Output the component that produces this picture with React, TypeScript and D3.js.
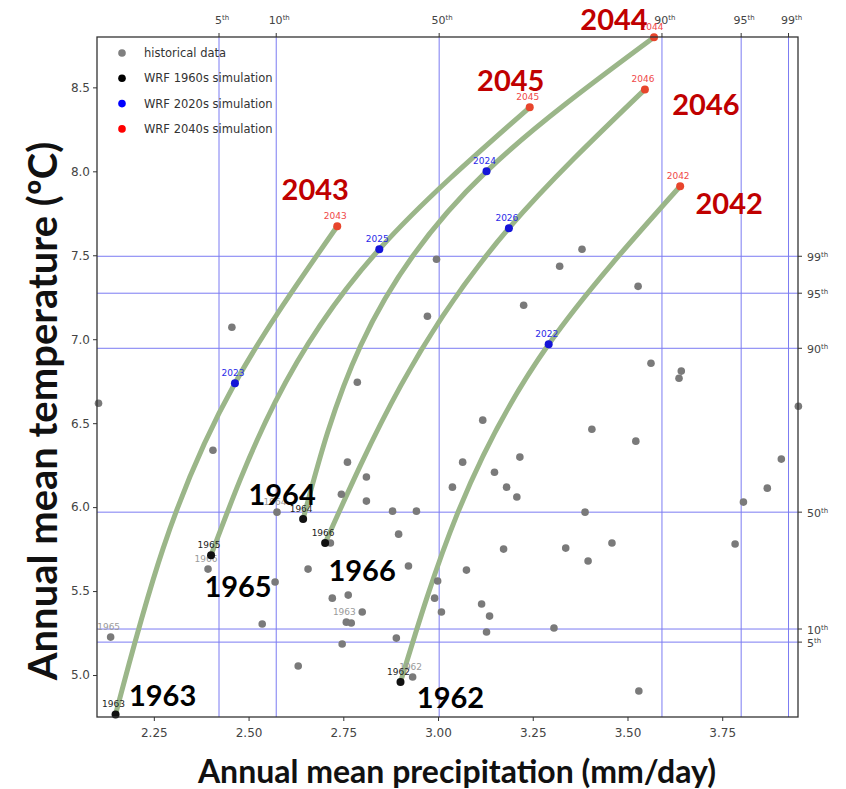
import React, { useEffect, useRef } from 'react';
import * as d3 from 'd3';

// historical annual means (precip mm/day, temp C)
const histPrecip = [
  2.104, 2.456, 2.406, 2.787, 2.972, 2.996, 3.380, 3.321, 3.226, 3.528,
  3.562, 3.642, 3.636, 3.951, 3.118, 3.406, 3.522, 3.216, 3.149, 3.181,
  3.208, 3.388, 3.906, 3.869, 3.806, 3.784, 3.173, 3.337, 3.396, 3.459,
  3.115, 3.136, 3.128, 3.306, 3.530, 3.065, 3.038, 2.761, 2.811, 2.745,
  2.811, 2.575, 2.880, 2.943, 2.896, 2.716, 2.393, 2.657, 2.922, 2.570,
  2.999, 3.075, 2.721, 2.763, 2.991, 2.800, 3.009, 2.758, 2.771, 2.536,
  2.890, 2.747, 2.631, 2.933, 2.136
];
const histTemp = [
  6.619, 7.071, 6.339, 6.744, 7.137, 7.476, 7.536, 7.435, 7.202, 7.315,
  6.857, 6.810, 6.768, 6.601, 6.518, 6.464, 6.393, 6.298, 6.208, 6.119,
  6.060, 5.970, 6.286, 6.113, 6.030, 5.780, 5.750, 5.756, 5.679, 5.786,
  5.423, 5.351, 5.256, 5.280, 4.905, 6.268, 6.119, 6.268, 6.179, 6.077,
  6.036, 5.970, 5.976, 5.976, 5.839, 5.786, 5.631, 5.631, 5.649, 5.554,
  5.560, 5.625, 5.458, 5.476, 5.458, 5.375, 5.375, 5.315, 5.310, 5.304,
  5.220, 5.185, 5.054, 4.988, 5.226
];
// a few historical points carry a faint year label
const histLabelIndex = [64, 57, 63, 41, 46];
const histLabelYear = ['1965', '1963', '1962', '1964', '1966'];

const years1960s = ['1963', '1965', '1964', '1966', '1962'];
const precip1960s = [2.149, 2.401, 2.644, 2.702, 2.901];
const temp1960s = [4.765, 5.714, 5.929, 5.786, 4.958];

const years2020s = ['2023', '2025', '2024', '2026', '2022'];
const precip2020s = [2.464, 2.845, 3.128, 3.187, 3.292];
const temp2020s = [6.738, 7.536, 8.000, 7.661, 6.970];

const years2040s = ['2043', '2045', '2044', '2046', '2042'];
const precip2040s = [2.734, 3.242, 3.570, 3.546, 3.639];
const temp2040s = [7.673, 8.381, 8.798, 8.488, 7.911];

const pctNames = ['5', '10', '50', '90', '95', '99'];
const precipPct = [2.422, 2.573, 3.003, 3.591, 3.800, 3.925];
const tempPct = [5.196, 5.274, 5.970, 6.946, 7.274, 7.494];

const xTicks = [2.25, 2.5, 2.75, 3.0, 3.25, 3.5, 3.75];
const yTicks = [5.0, 5.5, 6.0, 6.5, 7.0, 7.5, 8.0, 8.5];

const legendLabels = ['historical data', 'WRF 1960s simulation', 'WRF 2020s simulation', 'WRF 2040s simulation'];
const legendColors = ['#7f7f7f', '#000000', '#0000ff', '#ff0000'];

// big annotation offsets (px) from the start / end point of each track
const bigOffset1960s = [[47, -8], [27, 42], [-21, -14], [37, 38], [50, 26]];
const bigOffset2040s = [[-22, -26], [-19, -16], [-40, -7], [61, 26], [49, 28]];

const App = () => {
  const ref = useRef(null);

  useEffect(() => {
    const width = 846;
    const height = 789;
    const left = 97, right = 798, top = 37, bottom = 717;
    const x = d3.scaleLinear().domain([2.10, 3.95]).range([left, right]);
    const y = d3.scaleLinear().domain([4.75, 8.80]).range([bottom, top]);

    const svg = d3.select(ref.current);
    svg.selectAll('*').remove();
    svg.attr('width', width).attr('height', height).attr('viewBox', [0, 0, width, height]);

    const tickFont = 'DejaVu Sans, sans-serif';
    const bigFont = 'Lato, Open Sans, sans-serif';

    // percentile grid
    const grid = svg.append('g').attr('stroke', '#7b7bf2').attr('stroke-width', 1);
    precipPct.forEach(v => {
      grid.append('line').attr('x1', x(v)).attr('x2', x(v)).attr('y1', top).attr('y2', bottom);
      grid.append('line').attr('x1', x(v)).attr('x2', x(v)).attr('y1', top - 4).attr('y2', top).attr('stroke', '#333');
    });
    tempPct.forEach(v => {
      grid.append('line').attr('x1', left).attr('x2', right).attr('y1', y(v)).attr('y2', y(v));
      grid.append('line').attr('x1', right).attr('x2', right + 4).attr('y1', y(v)).attr('y2', y(v)).attr('stroke', '#333');
    });

    const pctLabel = (g, name) => {
      g.append('tspan').text(name);
      g.append('tspan').attr('font-size', 7).attr('dy', -4).text('th');
    };
    precipPct.forEach((v, i) => {
      const t = svg.append('text').attr('x', x(v) + 3).attr('y', 24).attr('text-anchor', 'middle')
        .attr('font-family', tickFont).attr('font-size', 11).attr('fill', '#444');
      pctLabel(t, pctNames[i]);
    });
    tempPct.forEach((v, i) => {
      const t = svg.append('text').attr('x', right + 9).attr('y', y(v) + 5)
        .attr('font-family', tickFont).attr('font-size', 11).attr('fill', '#444');
      pctLabel(t, pctNames[i]);
    });

    // axes
    svg.append('g')
      .attr('transform', `translate(0,${bottom})`)
      .call(d3.axisBottom(x).tickValues(xTicks).tickFormat(d3.format('.2f')).tickSize(4).tickSizeOuter(0))
      .call(g => g.select('.domain').remove())
      .call(g => g.selectAll('text').attr('font-family', tickFont).attr('font-size', 12).attr('fill', '#444').attr('dy', '1.1em'))
      .call(g => g.selectAll('line').attr('stroke', '#333'));
    svg.append('g')
      .attr('transform', `translate(${left},0)`)
      .call(d3.axisLeft(y).tickValues(yTicks).tickFormat(d3.format('.1f')).tickSize(4).tickSizeOuter(0))
      .call(g => g.select('.domain').remove())
      .call(g => g.selectAll('text').attr('font-family', tickFont).attr('font-size', 12).attr('fill', '#444'))
      .call(g => g.selectAll('line').attr('stroke', '#333'));

    // tracks 1960s -> 2020s -> 2040s (smooth in temperature)
    const line = d3.line().x(d => x(d[0])).y(d => y(d[1])).curve(d3.curveMonotoneY);
    const tracks = svg.append('g').attr('fill', 'none').attr('stroke', '#9bb689')
      .attr('stroke-width', 5).attr('stroke-linecap', 'round');
    years1960s.forEach((_, i) => {
      tracks.append('path').attr('d', line([
        [precip1960s[i], temp1960s[i]],
        [precip2020s[i], temp2020s[i]],
        [precip2040s[i], temp2040s[i]]
      ]));
    });

    // historical points
    const hist = svg.append('g');
    histPrecip.forEach((p, i) => {
      hist.append('circle').attr('cx', x(p)).attr('cy', y(histTemp[i])).attr('r', 3.8).attr('fill', '#7a7a7a');
    });
    histLabelIndex.forEach((idx, k) => {
      hist.append('text').attr('x', x(histPrecip[idx]) - 2).attr('y', y(histTemp[idx]) - 7)
        .attr('text-anchor', 'middle').attr('font-family', tickFont).attr('font-size', 9)
        .attr('fill', '#9a9a9a').text(histLabelYear[k]);
    });

    const simGroups = [
      { yrs: years1960s, px: precip1960s, ty: temp1960s, dot: '#111', lab: '#222' },
      { yrs: years2020s, px: precip2020s, ty: temp2020s, dot: '#1414d8', lab: '#2a2ae8' },
      { yrs: years2040s, px: precip2040s, ty: temp2040s, dot: '#e8452c', lab: '#f04848' }
    ];
    simGroups.forEach(s => {
      const g = svg.append('g');
      s.yrs.forEach((yr, i) => {
        g.append('circle').attr('cx', x(s.px[i])).attr('cy', y(s.ty[i])).attr('r', 4).attr('fill', s.dot);
        g.append('text').attr('x', x(s.px[i]) - 2).attr('y', y(s.ty[i]) - 7)
          .attr('text-anchor', 'middle').attr('font-family', tickFont).attr('font-size', 9)
          .attr('fill', s.lab).text(yr);
      });
    });

    // frame
    svg.append('rect').attr('x', left).attr('y', top).attr('width', right - left).attr('height', bottom - top)
      .attr('fill', 'none').attr('stroke', '#333').attr('stroke-width', 1.3);

    // big year annotations
    years1960s.forEach((yr, i) => {
      svg.append('text').attr('x', x(precip1960s[i]) + bigOffset1960s[i][0]).attr('y', y(temp1960s[i]) + bigOffset1960s[i][1])
        .attr('text-anchor', 'middle').attr('font-family', bigFont).attr('font-weight', 700)
        .attr('font-size', 29).attr('fill', '#000').text(yr);
    });
    years2040s.forEach((yr, i) => {
      svg.append('text').attr('x', x(precip2040s[i]) + bigOffset2040s[i][0]).attr('y', y(temp2040s[i]) + bigOffset2040s[i][1])
        .attr('text-anchor', 'middle').attr('font-family', bigFont).attr('font-weight', 700)
        .attr('font-size', 29).attr('fill', '#c00000').text(yr);
    });

    // legend
    const lg = svg.append('g').attr('font-family', tickFont).attr('font-size', 11.5).attr('fill', '#333');
    legendLabels.forEach((lab, i) => {
      lg.append('circle').attr('cx', 122).attr('cy', 53 + i * 25.3).attr('r', 3.8).attr('fill', legendColors[i]);
      lg.append('text').attr('x', 144).attr('y', 57 + i * 25.3).text(lab);
    });

    // axis titles
    svg.append('text').attr('x', 457).attr('y', 783).attr('text-anchor', 'middle')
      .attr('font-family', bigFont).attr('font-weight', 700).attr('font-size', 32).attr('fill', '#111')
      .text('Annual mean precipitation (mm/day)');
    svg.append('text').attr('transform', 'translate(57,411) rotate(-90)').attr('text-anchor', 'middle')
      .attr('font-family', bigFont).attr('font-weight', 700).attr('font-size', 40).attr('fill', '#111')
      .text('Annual mean temperature (ºC)');
  }, []);

  return <svg ref={ref} style={{ position: 'absolute', left: 0, top: 0, display: 'block' }} />;
};

export default App;
